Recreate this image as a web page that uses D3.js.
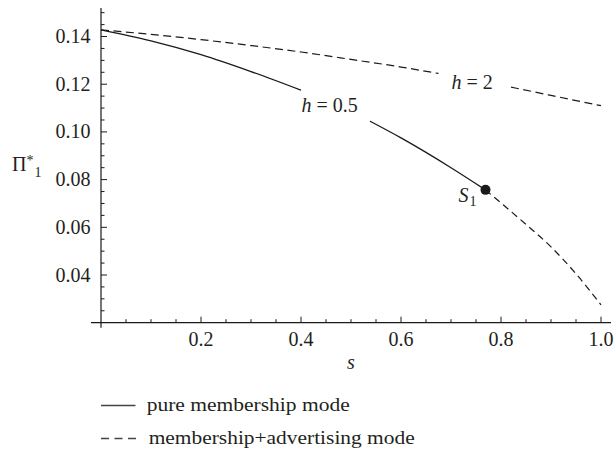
<!DOCTYPE html>
<html><head><meta charset="utf-8">
<script src="https://cdn.jsdelivr.net/npm/d3@7"></script>
<style>
html,body{margin:0;padding:0;background:#fff;}
text, tspan { font-family: "Liberation Serif" !important; }
</style></head>
<body>
<svg id="chart" width="615" height="451" style='font-family: "Liberation Serif"'></svg>
<script>
// ---- data ----
const xTicks = [0.2, 0.4, 0.6, 0.8, 1.0];
const xTickLabels = ["0.2", "0.4", "0.6", "0.8", "1.0"];
const yTicks = [0.04, 0.06, 0.08, 0.10, 0.12, 0.14];
const yTickLabels = ["0.04", "0.06", "0.08", "0.10", "0.12", "0.14"];

// h = 0.5, pure membership mode (solid), gap where the label sits
const pureS = [0, 0.1, 0.2, 0.3, 0.4, 0.47, 0.538, 0.6, 0.7, 0.769];
const pureV = [0.1428, 0.1382, 0.1324, 0.1253, 0.1175, null, 0.1045, 0.0975, 0.0850, 0.0757];

// h = 0.5, membership+advertising mode beyond S1 (dashed)
const advS = [0.769, 0.8, 0.85, 0.9, 0.95, 1.0];
const advV = [0.0757, 0.0702, 0.0612, 0.0518, 0.0405, 0.0275];

// h = 2, membership+advertising mode (dashed), gap where the label sits
const h2S = [0, 0.1, 0.2, 0.3, 0.4, 0.5, 0.6, 0.675, 0.75, 0.82, 0.9, 1.0];
const h2V = [0.1428, 0.1409, 0.1387, 0.1362, 0.1335, 0.1304, 0.1272, 0.1245, null, 0.1188, 0.1153, 0.1110];

const pointS1 = {s: 0.769, v: 0.0757};
const legendLabels = ["pure membership mode", "membership+advertising mode"];

// ---- drawing ----
const svg = d3.select("#chart");
const ink = "#1a1a1a";
const txt = "#231f20";
const x = d3.scaleLinear().domain([0, 1]).range([101, 601]);
const y = d3.scaleLinear().domain([0.02, 0.152]).range([322.7, 7.9]);

function T(sel) { return sel.style("font-family", '"Liberation Serif"').style("fill", txt); }

// axes lines
svg.append("line").attr("x1", x(-0.02)).attr("x2", x(1.02)).attr("y1", y(0.02)).attr("y2", y(0.02))
  .attr("stroke", ink).attr("stroke-width", 1.2);
svg.append("line").attr("x1", x(0)).attr("x2", x(0)).attr("y1", y(0.152)).attr("y2", y(0.02) + 5)
  .attr("stroke", ink).attr("stroke-width", 1.2);

// x ticks
const xMinor = d3.range(1, 21).map(i => i * 0.05);
svg.append("g").selectAll("line").data(xMinor).join("line")
  .attr("x1", d => x(d)).attr("x2", d => x(d))
  .attr("y1", y(0.02))
  .attr("y2", (d, i) => y(0.02) - ((i + 1) % 4 === 0 ? 6 : 3.5))
  .attr("stroke", ink).attr("stroke-width", 1);
T(svg.selectAll("text.xt").data(xTicks).join("text").attr("class", "xt"))
  .attr("x", d => x(d)).attr("y", y(0.02) + 23.5)
  .attr("text-anchor", "middle").style("font-size", "20px")
  .text((d, i) => xTickLabels[i]);

// y ticks
const yMinor = d3.range(5, 31).map(i => i * 0.005);
svg.append("g").selectAll("line").data(yMinor).join("line")
  .attr("x1", x(0)).attr("y1", d => y(d)).attr("y2", d => y(d))
  .attr("x2", (d, i) => x(0) + ((i + 5) % 4 === 0 && i + 5 >= 8 ? 6 : 3.5))
  .attr("stroke", ink).attr("stroke-width", 1);
T(svg.selectAll("text.yt").data(yTicks).join("text").attr("class", "yt"))
  .attr("x", 90.5).attr("y", d => y(d) + 6.5)
  .attr("text-anchor", "end").style("font-size", "20px")
  .text((d, i) => yTickLabels[i]);

// axis titles
T(svg.append("text")).attr("x", 351).attr("y", 369).attr("text-anchor", "middle")
  .style("font-size", "20px").style("font-style", "italic").text("s");
const yl = T(svg.append("text")).attr("x", 12).attr("y", 171).style("font-size", "20px");
T(yl.append("tspan")).text("Π");
T(yl.append("tspan")).style("font-size", "14px").attr("dy", -6).text("*");
T(yl.append("tspan")).style("font-size", "14px").attr("dy", 12).attr("dx", 1).text("1");

// curves
const line = d3.line().defined(d => d[1] !== null)
  .x(d => x(d[0])).y(d => y(d[1])).curve(d3.curveMonotoneX);
svg.append("path").attr("d", line(pureS.map((s, i) => [s, pureV[i]])))
  .attr("fill", "none").attr("stroke", ink).attr("stroke-width", 1.3);
svg.append("path").attr("d", line(advS.map((s, i) => [s, advV[i]])))
  .attr("fill", "none").attr("stroke", ink).attr("stroke-width", 1.2).attr("stroke-dasharray", "7,4.5");
svg.append("path").attr("d", line(h2S.map((s, i) => [s, h2V[i]])))
  .attr("fill", "none").attr("stroke", ink).attr("stroke-width", 1.2).attr("stroke-dasharray", "8,4.5");

// S1 point
svg.append("circle").attr("cx", x(pointS1.s)).attr("cy", y(pointS1.v)).attr("r", 5).attr("fill", ink);
const sl = T(svg.append("text")).attr("x", x(pointS1.s) - 27).attr("y", y(pointS1.v) + 12)
  .style("font-size", "20px");
T(sl.append("tspan")).style("font-style", "italic").text("S");
T(sl.append("tspan")).style("font-size", "14px").attr("dy", 4).attr("dx", 1).text("1");

// curve labels
function hLabel(xx, yy, val) {
  const t = T(svg.append("text")).attr("x", xx).attr("y", yy).style("font-size", "20px");
  T(t.append("tspan")).style("font-style", "italic").text("h");
  T(t.append("tspan")).text(" = " + val);
}
hLabel(x(0.401), y(0.1083), "0.5");
hLabel(x(0.701), y(0.1181), "2");

// legend
svg.append("line").attr("x1", 101).attr("x2", 135.5).attr("y1", 405.5).attr("y2", 405.5)
  .attr("stroke", "#444").attr("stroke-width", 1.3);
svg.append("line").attr("x1", 101).attr("x2", 136).attr("y1", 438.5).attr("y2", 438.5)
  .attr("stroke", "#444").attr("stroke-width", 1.3).attr("stroke-dasharray", "8,5.5");
T(svg.append("text")).attr("x", 146.7).attr("y", 411).style("font-size", "18.5px")
  .attr("textLength", 203).attr("lengthAdjust", "spacingAndGlyphs").text(legendLabels[0]);
T(svg.append("text")).attr("x", 148.7).attr("y", 443.5).style("font-size", "18.5px")
  .attr("textLength", 266).attr("lengthAdjust", "spacingAndGlyphs").text(legendLabels[1]);
</script>
</body></html>
